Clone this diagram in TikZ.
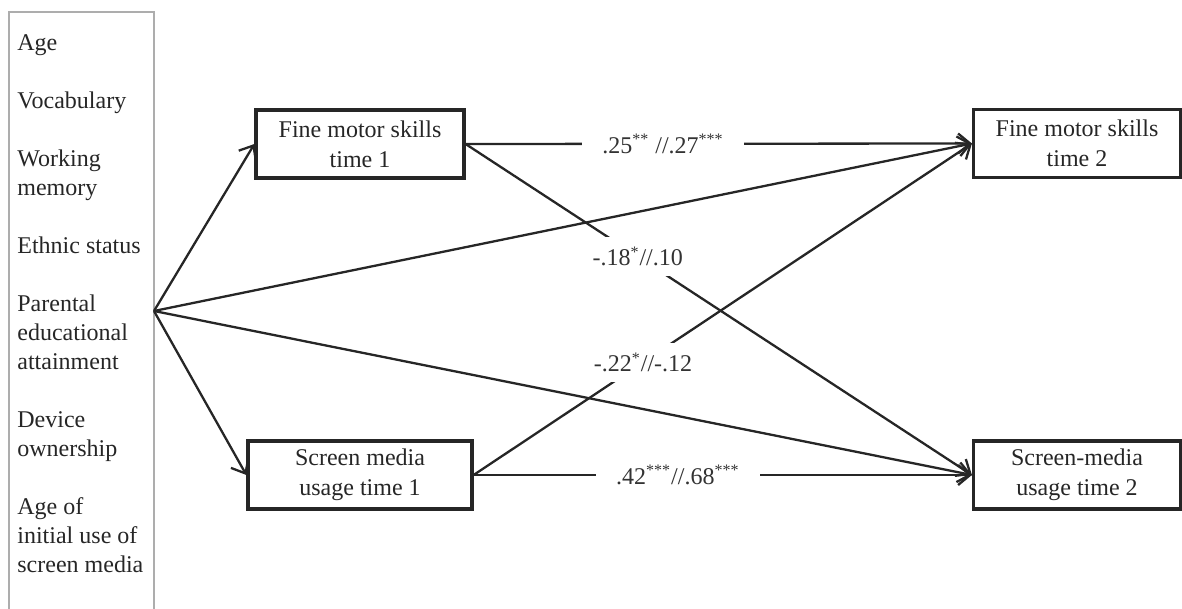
\documentclass[tikz,border=0pt]{standalone}
\usepackage{fontspec}
\setmainfont{Liberation Serif}
\usetikzlibrary{arrows.meta}
\begin{document}
\begin{tikzpicture}[x=0.5pt,y=-0.5pt,
  box/.style={draw=black!85,line width=1.6pt,align=center,minimum height=34pt,
    inner sep=0pt,text=black!85,font=\fontsize{12}{15}\selectfont},
  link/.style={draw=black!85,line width=1.15pt,
    -{Straight Barb[length=6pt,width=10pt,line width=1.15pt]}},
  coef/.style={fill=white,inner xsep=10pt,inner ysep=5pt,text=black!80,
    font=\fontsize{12}{14}\selectfont}]
\useasboundingbox (0,0) rectangle (1182,609);
% Covariate frame, open at the bottom
\draw[black!32,line width=1.4pt] (9,615) -- (9,12) -- (154,12) -- (154,615);
% Covariates
\node[anchor=north west,align=left,inner sep=0pt,text=black!85,
  font=\fontsize{12}{14.5}\selectfont] (covs) at (17,34)
  {Age\\[14.5pt]
   Vocabulary\\[14.5pt]
   Working\\memory\\[14.5pt]
   Ethnic status\\[14.5pt]
   Parental\\educational\\attainment\\[14.5pt]
   Device\\ownership\\[14.5pt]
   Age of\\initial use of\\screen media};
% Point where the covariate paths start
\coordinate (src) at (154,311);
% Boxes
\node[box,minimum width=104pt] (fms1) at (360,144) {Fine motor skills\\time 1};
\node[box,minimum width=103.5pt] (fms2) at (1077,143.5) {Fine motor skills\\time 2};
\node[box,minimum width=112pt] (smu1) at (360,475) {Screen media\\usage time 1};
\node[box,minimum width=103.5pt] (smu2) at (1077,475) {Screen-media\\usage time 2};
% Covariate paths
\draw[link] (src) -- (fms1.west);
\draw[link] (src) -- (smu1.west);
\draw[link] (src) -- (fms2.west);
\draw[link] (src) -- (smu2.west);
% Stability paths
\draw[link] (fms1.east) -- node[coef,pos=0.39] {.25\textsuperscript{**} //.27\textsuperscript{***}} (fms2.west);
\draw[link] (smu1.east) -- node[coef,pos=0.41] {.42\textsuperscript{***}//.68\textsuperscript{***}} (smu2.west);
% Cross-lagged paths
\draw[link] (fms1.east) -- node[coef,pos=0.34] {-.18\textsuperscript{*}//.10} (smu2.west);
\draw[link] (smu1.east) -- node[coef,pos=0.34] {-.22\textsuperscript{*}//-.12} (fms2.west);
\end{tikzpicture}
\end{document}
